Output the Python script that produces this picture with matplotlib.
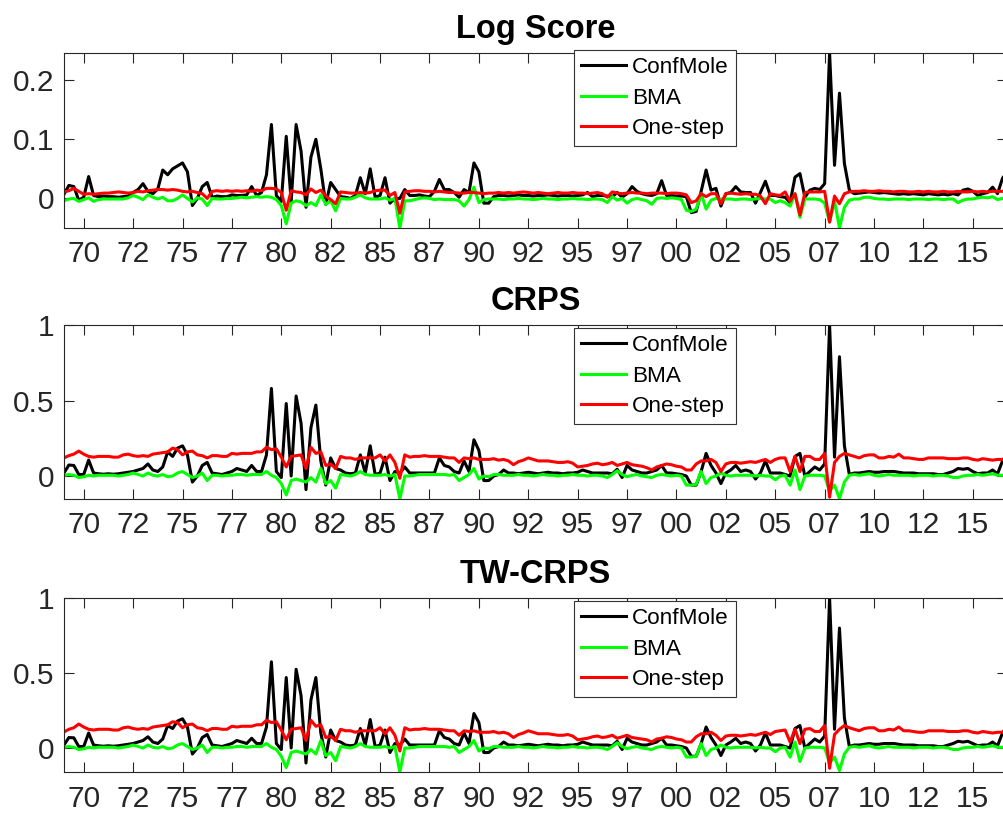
import numpy as np
import matplotlib
matplotlib.use("Agg")
import matplotlib.pyplot as plt
from matplotlib.ticker import FixedLocator, FuncFormatter

plt.rcParams['font.family'] = ['Liberation Sans', 'DejaVu Sans']

# quarterly evaluation dates, 1969Q1 .. 2016Q4
quarters = 1969 + 0.25 * np.arange(192)

tick_years = [1970, 1972.5, 1975, 1977.5, 1980, 1982.5, 1985, 1987.5, 1990, 1992.5,
              1995, 1997.5, 2000, 2002.5, 2005, 2007.5, 2010, 2012.5, 2015]
tick_labels = ["70", "72", "75", "77", "80", "82", "85", "87", "90", "92",
               "95", "97", "00", "02", "05", "07", "10", "12", "15"]

series_names = ["ConfMole", "BMA", "One-step"]
panel_titles = ["Log Score", "CRPS", "TW-CRPS"]

# ---- Log score differences ----
ls_confmole = [
    0.007, 0.022, 0.020, -0.003, 0.002, 0.037, 0.005, 0.003, 0.004, 0.003,
    0.003, 0.002, 0.003, 0.004, 0.010, 0.015, 0.025, 0.012, 0.008, 0.016,
    0.048, 0.040, 0.050, 0.055, 0.060, 0.045, -0.012, 0.000, 0.020, 0.027,
    0.002, 0.004, 0.003, 0.003, 0.006, 0.005, 0.005, 0.006, 0.020, 0.005,
    0.010, 0.040, 0.125, 0.005, -0.005, 0.105, -0.005, 0.125, 0.080, -0.015,
    0.070, 0.100, 0.050, -0.010, 0.027, 0.015, 0.003, 0.002, 0.000, 0.005,
    0.035, 0.008, 0.050, 0.002, 0.005, 0.035, -0.008, 0.000, 0.000, 0.015,
    0.005, 0.005, 0.006, 0.004, 0.003, 0.012, 0.032, 0.015, 0.015, 0.010,
    0.002, 0.015, 0.010, 0.060, 0.045, -0.008, -0.008, 0.003, 0.005, 0.005,
    0.004, 0.005, 0.006, 0.005, 0.005, 0.004, 0.005, 0.005, 0.006, 0.005,
    0.004, 0.005, 0.005, 0.004, 0.005, 0.006, 0.010, 0.003, 0.005, 0.005,
    0.004, 0.003, 0.010, 0.002, 0.008, 0.020, 0.012, 0.008, 0.006, 0.005,
    0.008, 0.030, 0.005, 0.005, 0.004, 0.004, 0.003, -0.024, -0.022, 0.012,
    0.048, 0.014, 0.017, -0.013, 0.008, 0.010, 0.020, 0.011, 0.010, 0.010,
    -0.008, 0.010, 0.029, 0.005, 0.005, 0.003, 0.002, -0.007, 0.036, 0.042,
    0.002, 0.014, 0.017, 0.015, 0.025, 0.246, 0.056, 0.178, 0.059, 0.014,
    0.008, 0.009, 0.010, 0.011, 0.010, 0.009, 0.010, 0.009, 0.008, 0.007,
    0.008, 0.007, 0.008, 0.007, 0.006, 0.008, 0.007, 0.006, 0.007, 0.006,
    0.008, 0.006, 0.014, 0.016, 0.012, 0.005, 0.008, 0.010, 0.019, 0.008,
    0.034, 0.045,
]
ls_bma = [
    -0.004, -0.001, 0.000, -0.005, -0.002, 0.001, -0.005, -0.002, -0.001, -0.001,
    -0.001, -0.001, -0.001, 0.001, 0.005, 0.002, -0.002, 0.006, 0.002, -0.001,
    0.002, -0.004, -0.004, 0.000, 0.006, 0.000, -0.006, 0.001, -0.001, -0.012,
    0.000, -0.001, -0.001, 0.000, 0.000, 0.001, 0.002, 0.001, 0.002, 0.003,
    0.002, 0.003, 0.002, -0.002, -0.012, -0.043, -0.008, -0.004, -0.006, -0.012,
    -0.007, -0.012, 0.006, -0.010, -0.004, -0.021, 0.000, -0.001, -0.001, 0.002,
    0.006, 0.001, -0.001, -0.001, -0.001, 0.001, -0.003, 0.000, -0.050, -0.004,
    -0.004, -0.002, 0.000, 0.001, 0.000, -0.002, -0.001, -0.002, -0.002, -0.002,
    -0.004, -0.013, -0.002, 0.019, -0.007, -0.002, -0.001, -0.001, -0.001, -0.002,
    -0.001, -0.001, 0.000, -0.001, -0.001, -0.002, -0.001, 0.000, -0.001, -0.001,
    -0.002, -0.001, -0.001, 0.000, -0.001, -0.001, -0.002, -0.001, -0.001, -0.002,
    -0.007, 0.003, -0.003, 0.000, -0.008, -0.002, 0.000, -0.002, -0.004, -0.010,
    0.000, 0.001, 0.000, 0.001, 0.000, -0.002, -0.020, -0.022, -0.018, 0.008,
    -0.018, -0.003, 0.000, -0.001, -0.001, -0.001, -0.002, -0.001, -0.001, -0.002,
    -0.001, 0.000, -0.001, -0.001, -0.007, -0.004, -0.007, -0.013, 0.008, -0.032,
    -0.001, -0.001, -0.001, -0.002, -0.008, -0.040, -0.004, -0.050, -0.015, -0.003,
    -0.001, -0.001, 0.002, 0.002, 0.000, -0.001, -0.001, -0.002, -0.001, -0.001,
    -0.001, -0.002, -0.001, -0.001, -0.001, -0.002, -0.001, -0.001, -0.002, -0.001,
    -0.001, -0.007, -0.003, -0.001, -0.001, 0.001, 0.002, 0.001, 0.003, -0.002,
    0.000, -0.001,
]
ls_onestep = [
    0.011, 0.013, 0.017, 0.012, 0.007, 0.008, 0.007, 0.008, 0.009, 0.009,
    0.010, 0.011, 0.010, 0.009, 0.010, 0.012, 0.011, 0.013, 0.014, 0.015,
    0.015, 0.014, 0.015, 0.014, 0.012, 0.011, 0.012, 0.010, 0.008, 0.000,
    0.012, 0.013, 0.012, 0.013, 0.012, 0.013, 0.012, 0.013, 0.012, 0.014,
    0.013, 0.017, 0.017, 0.016, 0.010, -0.020, 0.013, 0.011, 0.010, 0.006,
    0.016, 0.010, 0.014, 0.004, -0.002, -0.009, 0.011, 0.010, 0.009, 0.009,
    0.010, 0.009, 0.010, 0.013, 0.014, 0.014, 0.005, 0.010, -0.025, 0.011,
    0.012, 0.013, 0.013, 0.012, 0.012, 0.011, 0.012, 0.011, 0.010, 0.010,
    0.009, 0.009, 0.010, 0.010, 0.009, 0.008, 0.009, 0.009, 0.010, 0.009,
    0.010, 0.009, 0.010, 0.011, 0.010, 0.009, 0.010, 0.009, 0.008, 0.009,
    0.010, 0.009, 0.009, 0.010, 0.009, 0.009, 0.008, 0.009, 0.010, 0.008,
    0.002, 0.011, 0.009, 0.008, 0.009, 0.010, 0.009, 0.009, 0.008, 0.009,
    0.009, 0.009, 0.008, 0.009, 0.009, 0.008, 0.006, -0.007, -0.004, 0.008,
    0.003, 0.008, 0.008, -0.009, 0.008, 0.009, 0.008, 0.007, 0.008, 0.007,
    0.007, 0.004, -0.009, 0.008, 0.006, 0.005, 0.011, -0.005, 0.008, -0.028,
    0.010, 0.011, 0.011, 0.011, 0.012, -0.040, 0.004, -0.009, 0.008, 0.011,
    0.012, 0.012, 0.013, 0.012, 0.012, 0.013, 0.012, 0.012, 0.011, 0.012,
    0.012, 0.011, 0.011, 0.012, 0.011, 0.012, 0.011, 0.011, 0.012, 0.011,
    0.011, 0.012, 0.011, 0.011, 0.012, 0.011, 0.012, 0.011, 0.012, 0.012,
    0.012, 0.013,
]

# ---- CRPS differences ----
crps_confmole = [
    0.020, 0.073, 0.070, 0.010, 0.010, 0.106, 0.020, 0.015, 0.012, 0.015,
    0.012, 0.015, 0.020, 0.025, 0.030, 0.040, 0.050, 0.080, 0.040, 0.030,
    0.060, 0.160, 0.130, 0.185, 0.200, 0.140, -0.040, 0.000, 0.070, 0.090,
    0.020, 0.015, 0.010, 0.020, 0.030, 0.050, 0.040, 0.030, 0.070, 0.030,
    0.030, 0.140, 0.580, 0.030, -0.010, 0.480, 0.000, 0.530, 0.350, -0.090,
    0.320, 0.470, 0.100, -0.060, 0.120, 0.050, 0.040, 0.020, 0.015, 0.020,
    0.140, 0.020, 0.200, 0.010, 0.020, 0.125, -0.030, 0.030, 0.020, 0.060,
    0.020, 0.020, 0.020, 0.020, 0.020, 0.020, 0.120, 0.070, 0.060, 0.030,
    0.020, 0.100, 0.030, 0.240, 0.170, -0.030, -0.030, 0.000, 0.010, 0.040,
    0.020, 0.020, 0.015, 0.020, 0.025, 0.020, 0.015, 0.020, 0.025, 0.020,
    0.020, 0.015, 0.020, 0.020, 0.025, 0.040, 0.030, 0.020, 0.020, 0.020,
    0.020, 0.015, 0.045, -0.010, 0.070, 0.040, 0.030, 0.020, 0.020, 0.030,
    0.040, 0.070, 0.020, 0.020, 0.015, 0.010, 0.000, -0.060, -0.060, 0.030,
    0.150, 0.070, 0.020, -0.050, 0.020, 0.040, 0.070, 0.030, 0.040, 0.030,
    -0.020, 0.020, 0.100, 0.020, 0.020, 0.020, 0.010, 0.000, 0.130, 0.150,
    0.000, 0.030, 0.060, 0.040, 0.080, 1.000, 0.125, 0.790, 0.200, 0.010,
    0.020, 0.020, 0.025, 0.030, 0.025, 0.025, 0.030, 0.030, 0.030, 0.025,
    0.020, 0.020, 0.020, 0.015, 0.015, 0.015, 0.015, 0.010, 0.010, 0.020,
    0.030, 0.050, 0.045, 0.050, 0.030, 0.015, 0.020, 0.020, 0.040, 0.015,
    0.100, 0.150,
]
crps_bma = [
    0.005, 0.010, 0.005, -0.010, -0.005, 0.005, 0.000, 0.005, 0.005, 0.005,
    0.005, 0.000, 0.005, 0.010, 0.020, 0.010, 0.000, 0.020, 0.005, 0.000,
    0.010, -0.005, 0.000, 0.020, 0.030, 0.010, -0.010, 0.000, 0.020, -0.030,
    0.005, 0.005, 0.000, 0.005, 0.005, 0.010, 0.010, 0.005, 0.010, 0.010,
    0.010, 0.030, 0.005, -0.010, -0.050, -0.125, -0.030, -0.020, -0.030, -0.040,
    -0.010, -0.040, 0.050, -0.050, -0.030, -0.080, 0.010, 0.005, 0.000, 0.010,
    0.030, 0.010, 0.005, 0.005, 0.005, 0.010, 0.000, 0.010, -0.152, 0.000,
    0.000, 0.005, 0.010, 0.010, 0.010, 0.010, 0.010, 0.010, 0.005, 0.010,
    -0.030, -0.010, 0.010, 0.050, -0.020, 0.000, -0.005, 0.010, 0.010, 0.005,
    0.005, 0.005, 0.010, 0.005, 0.005, 0.000, 0.005, 0.010, 0.005, 0.005,
    0.000, 0.005, 0.005, 0.010, 0.005, 0.005, 0.000, 0.005, 0.005, 0.000,
    -0.010, 0.010, 0.035, 0.010, -0.005, 0.005, 0.010, 0.000, -0.005, -0.010,
    0.005, 0.010, 0.005, 0.000, 0.005, 0.000, -0.060, -0.060, -0.055, 0.030,
    -0.050, -0.010, 0.000, 0.020, 0.005, 0.000, 0.005, 0.005, 0.005, 0.005,
    0.000, 0.005, 0.000, 0.000, -0.025, 0.000, 0.005, -0.060, 0.040, -0.090,
    0.000, 0.005, 0.005, 0.005, 0.000, -0.100, -0.060, -0.150, -0.040, 0.005,
    0.010, 0.005, 0.010, 0.015, 0.005, 0.000, 0.005, 0.010, 0.005, 0.005,
    0.005, 0.005, 0.000, 0.005, 0.005, 0.005, 0.000, 0.005, 0.005, 0.000,
    -0.010, -0.010, 0.000, 0.005, 0.005, 0.010, 0.005, 0.010, 0.015, 0.005,
    0.005, 0.005,
]
crps_onestep = [
    0.120, 0.135, 0.145, 0.165, 0.145, 0.130, 0.125, 0.130, 0.130, 0.130,
    0.125, 0.125, 0.140, 0.145, 0.135, 0.130, 0.135, 0.130, 0.145, 0.150,
    0.155, 0.160, 0.185, 0.175, 0.140, 0.160, 0.165, 0.140, 0.135, 0.120,
    0.135, 0.135, 0.130, 0.130, 0.150, 0.145, 0.150, 0.150, 0.150, 0.160,
    0.160, 0.190, 0.175, 0.180, 0.125, 0.060, 0.130, 0.135, 0.140, 0.050,
    0.190, 0.150, 0.160, 0.070, 0.080, 0.050, 0.130, 0.120, 0.120, 0.110,
    0.120, 0.120, 0.120, 0.120, 0.140, 0.100, 0.140, 0.090, -0.015, 0.140,
    0.125, 0.130, 0.130, 0.135, 0.130, 0.130, 0.130, 0.125, 0.120, 0.120,
    0.090, 0.120, 0.115, 0.120, 0.110, 0.110, 0.110, 0.115, 0.105, 0.110,
    0.100, 0.075, 0.095, 0.105, 0.120, 0.110, 0.100, 0.100, 0.100, 0.095,
    0.090, 0.090, 0.095, 0.085, 0.060, 0.065, 0.070, 0.080, 0.085, 0.075,
    0.080, 0.090, 0.070, 0.080, 0.090, 0.075, 0.070, 0.065, 0.055, 0.040,
    0.060, 0.070, 0.080, 0.075, 0.065, 0.060, 0.040, 0.040, 0.080, 0.100,
    0.100, 0.110, 0.090, 0.030, 0.080, 0.090, 0.090, 0.085, 0.090, 0.095,
    0.090, 0.100, 0.110, 0.090, 0.110, 0.120, 0.120, 0.030, 0.130, 0.030,
    0.130, 0.130, 0.110, 0.110, 0.150, -0.140, 0.090, 0.130, 0.150, 0.140,
    0.130, 0.120, 0.135, 0.140, 0.140, 0.120, 0.120, 0.130, 0.125, 0.145,
    0.120, 0.120, 0.115, 0.110, 0.110, 0.120, 0.120, 0.120, 0.120, 0.115,
    0.115, 0.115, 0.120, 0.120, 0.110, 0.105, 0.115, 0.110, 0.105, 0.110,
    0.110, 0.115,
]

# ---- threshold-weighted CRPS differences ----
twcrps_confmole = [
    0.020, 0.070, 0.068, 0.010, 0.010, 0.100, 0.020, 0.015, 0.012, 0.015,
    0.012, 0.015, 0.020, 0.025, 0.030, 0.040, 0.050, 0.075, 0.040, 0.030,
    0.060, 0.150, 0.130, 0.180, 0.195, 0.140, -0.040, 0.000, 0.070, 0.090,
    0.020, 0.015, 0.010, 0.020, 0.030, 0.050, 0.040, 0.030, 0.065, 0.030,
    0.030, 0.140, 0.575, 0.030, -0.010, 0.470, 0.000, 0.525, 0.350, -0.100,
    0.320, 0.470, 0.100, -0.060, 0.120, 0.050, 0.040, 0.020, 0.015, 0.020,
    0.130, 0.020, 0.190, 0.010, 0.020, 0.120, -0.030, 0.030, 0.020, 0.060,
    0.020, 0.020, 0.020, 0.020, 0.020, 0.020, 0.115, 0.070, 0.060, 0.030,
    0.020, 0.100, 0.030, 0.230, 0.170, -0.030, -0.030, 0.000, 0.010, 0.040,
    0.020, 0.020, 0.015, 0.020, 0.025, 0.020, 0.015, 0.020, 0.025, 0.020,
    0.020, 0.015, 0.020, 0.020, 0.025, 0.040, 0.030, 0.020, 0.020, 0.020,
    0.020, 0.015, 0.045, -0.010, 0.065, 0.040, 0.030, 0.020, 0.020, 0.030,
    0.040, 0.065, 0.020, 0.020, 0.015, 0.010, 0.000, -0.055, -0.055, 0.030,
    0.140, 0.070, 0.020, -0.050, 0.020, 0.040, 0.065, 0.030, 0.040, 0.030,
    -0.020, 0.020, 0.100, 0.020, 0.020, 0.020, 0.010, 0.000, 0.130, 0.150,
    0.000, 0.030, 0.060, 0.040, 0.080, 1.000, 0.125, 0.800, 0.200, 0.010,
    0.020, 0.020, 0.025, 0.030, 0.025, 0.025, 0.030, 0.030, 0.030, 0.025,
    0.020, 0.020, 0.020, 0.015, 0.015, 0.015, 0.015, 0.010, 0.010, 0.020,
    0.030, 0.045, 0.040, 0.045, 0.030, 0.015, 0.020, 0.020, 0.040, 0.015,
    0.100, 0.150,
]
twcrps_bma = [
    0.005, 0.010, 0.005, -0.010, -0.005, 0.005, 0.000, 0.005, 0.005, 0.005,
    0.005, 0.000, 0.005, 0.010, 0.020, 0.010, 0.000, 0.020, 0.005, 0.000,
    0.010, -0.005, 0.000, 0.020, 0.030, 0.010, -0.010, 0.000, 0.020, -0.030,
    0.005, 0.005, 0.000, 0.005, 0.005, 0.010, 0.010, 0.005, 0.010, 0.010,
    0.010, 0.030, 0.005, -0.010, -0.055, -0.130, -0.030, -0.020, -0.030, -0.040,
    -0.010, -0.040, 0.050, -0.050, -0.030, -0.085, 0.010, 0.005, 0.000, 0.010,
    0.030, 0.010, 0.005, 0.005, 0.005, 0.010, 0.000, 0.010, -0.160, 0.000,
    0.000, 0.005, 0.010, 0.010, 0.010, 0.010, 0.010, 0.010, 0.005, 0.010,
    -0.030, -0.010, 0.010, 0.050, -0.020, 0.000, -0.005, 0.010, 0.010, 0.005,
    0.005, 0.005, 0.010, 0.005, 0.005, 0.000, 0.005, 0.010, 0.005, 0.005,
    0.000, 0.005, 0.005, 0.010, 0.005, 0.005, 0.000, 0.005, 0.005, 0.000,
    -0.010, 0.010, 0.035, 0.010, -0.005, 0.005, 0.010, 0.000, -0.005, -0.010,
    0.005, 0.010, 0.005, 0.000, 0.005, 0.000, -0.060, -0.060, -0.055, 0.030,
    -0.050, -0.010, 0.000, 0.020, 0.005, 0.000, 0.005, 0.005, 0.005, 0.005,
    0.000, 0.005, 0.000, 0.000, -0.025, 0.000, 0.005, -0.060, 0.040, -0.090,
    0.000, 0.005, 0.005, 0.005, 0.000, -0.100, -0.060, -0.150, -0.040, 0.005,
    0.010, 0.005, 0.010, 0.015, 0.005, 0.000, 0.005, 0.010, 0.005, 0.005,
    0.005, 0.005, 0.000, 0.005, 0.005, 0.005, 0.000, 0.005, 0.005, 0.000,
    -0.010, -0.010, 0.000, 0.005, 0.005, 0.010, 0.005, 0.010, 0.015, 0.005,
    0.005, 0.005,
]
twcrps_onestep = [
    0.107, 0.125, 0.135, 0.160, 0.140, 0.125, 0.120, 0.125, 0.125, 0.125,
    0.120, 0.120, 0.135, 0.140, 0.130, 0.125, 0.130, 0.125, 0.140, 0.145,
    0.150, 0.155, 0.175, 0.170, 0.135, 0.155, 0.160, 0.135, 0.130, 0.115,
    0.130, 0.130, 0.125, 0.125, 0.145, 0.140, 0.145, 0.145, 0.145, 0.155,
    0.155, 0.185, 0.170, 0.175, 0.120, 0.055, 0.125, 0.130, 0.135, 0.050,
    0.185, 0.145, 0.155, 0.070, 0.080, 0.050, 0.125, 0.115, 0.115, 0.105,
    0.115, 0.115, 0.115, 0.115, 0.135, 0.095, 0.135, 0.085, -0.020, 0.135,
    0.120, 0.125, 0.125, 0.130, 0.125, 0.125, 0.125, 0.120, 0.115, 0.115,
    0.085, 0.115, 0.110, 0.115, 0.105, 0.105, 0.105, 0.110, 0.100, 0.105,
    0.095, 0.070, 0.090, 0.100, 0.115, 0.105, 0.095, 0.095, 0.095, 0.090,
    0.085, 0.085, 0.090, 0.080, 0.055, 0.060, 0.065, 0.075, 0.080, 0.070,
    0.075, 0.085, 0.065, 0.075, 0.085, 0.070, 0.065, 0.060, 0.055, 0.040,
    0.060, 0.065, 0.075, 0.070, 0.060, 0.055, 0.040, 0.040, 0.075, 0.095,
    0.095, 0.105, 0.085, 0.050, 0.080, 0.085, 0.085, 0.080, 0.085, 0.090,
    0.085, 0.095, 0.105, 0.090, 0.110, 0.115, 0.120, 0.040, 0.125, 0.030,
    0.125, 0.130, 0.110, 0.110, 0.150, -0.135, 0.090, 0.125, 0.150, 0.135,
    0.125, 0.115, 0.130, 0.135, 0.135, 0.115, 0.115, 0.125, 0.120, 0.140,
    0.115, 0.115, 0.110, 0.105, 0.105, 0.115, 0.115, 0.115, 0.115, 0.110,
    0.110, 0.110, 0.115, 0.115, 0.105, 0.100, 0.110, 0.105, 0.100, 0.105,
    0.105, 0.110,
]

panels = [
    (ls_confmole, ls_bma, ls_onestep),
    (crps_confmole, crps_bma, crps_onestep),
    (twcrps_confmole, twcrps_bma, twcrps_onestep),
]
yticks = [[0, 0.1, 0.2], [0, 0.5, 1], [0, 0.5, 1]]
colors = ["black", "#00ff00", "#ff0000"]
edge = "#262626"

fig = plt.figure(figsize=(10.04, 8.16), dpi=100)
# axes boxes in figure fraction: left, bottom, width, height
boxes = [
    [0.0637, 0.7206, 0.9397, 0.2145],
    [0.0637, 0.3885, 0.9397, 0.2132],
    [0.0637, 0.0539, 0.9397, 0.2132],
]
legend_tops = [1.017, 0.983, 0.983]

for k in range(3):
    ax = fig.add_axes(boxes[k])
    for vals, name, c in zip(panels[k], series_names, colors):
        ax.plot(quarters, vals, color=c, lw=2.2, label=name)

    lo = min(min(v) for v in panels[k])
    hi = max(max(v) for v in panels[k])
    ax.set_ylim(lo, hi)
    ax.set_xlim(quarters[0], quarters[-1])

    ax.xaxis.set_major_locator(FixedLocator(tick_years))
    ax.set_xticklabels(tick_labels)
    ax.yaxis.set_major_locator(FixedLocator(yticks[k]))
    ax.yaxis.set_major_formatter(FuncFormatter(lambda v, p: "%g" % v))

    ax.tick_params(direction="in", top=True, right=True, length=7, width=0.8,
                   color=edge, labelcolor=edge, labelsize=21.5)
    ax.tick_params(axis="x", pad=9)
    ax.tick_params(axis="y", pad=7)
    for s in ax.spines.values():
        s.set_color(edge)
        s.set_linewidth(0.8)

    ax.set_title(panel_titles[k], fontsize=23.5, fontweight="bold", pad=11)

    leg = ax.legend(loc="upper left", bbox_to_anchor=(0.5405, legend_tops[k]),
                    borderaxespad=0, fontsize=16.2, frameon=True, fancybox=False,
                    framealpha=1, edgecolor="#333333", handlelength=2.0,
                    handletextpad=0.25, borderpad=0.32, labelspacing=0.42)
    leg.get_frame().set_linewidth(0.8)

fig.savefig("out.png", dpi=100)
